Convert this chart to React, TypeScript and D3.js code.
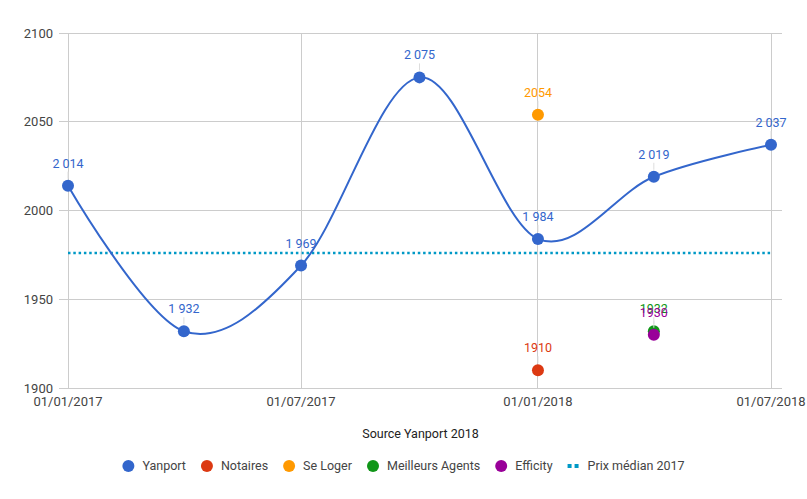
import React, { useMemo } from "react";
import * as d3 from "d3";

const yanportDates = ["2017-01-01", "2017-04-01", "2017-07-01", "2017-10-01", "2018-01-01", "2018-04-01", "2018-07-01"];
const yanportValues = [2014, 1932, 1969, 2075, 1984, 2019, 2037];

const otherSeries = [
  { name: "Notaires", color: "#dc3912", date: "2018-01-01", value: 1910 },
  { name: "Se Loger", color: "#ff9900", date: "2018-01-01", value: 2054 },
  { name: "Meilleurs Agents", color: "#109618", date: "2018-04-01", value: 1932 },
  { name: "Efficity", color: "#990099", date: "2018-04-01", value: 1930 },
];

const medianValue = 1976;
const medianRange = ["2017-01-01", "2018-07-01"];

const yTicks = [1900, 1950, 2000, 2050, 2100];
const xTicks = ["2017-01-01", "2017-07-01", "2018-01-01", "2018-07-01"];
const xTickLabels = ["01/01/2017", "01/07/2017", "01/01/2018", "01/07/2018"];

const legendItems = [
  { name: "Yanport", color: "#3366cc", kind: "dot" },
  { name: "Notaires", color: "#dc3912", kind: "dot" },
  { name: "Se Loger", color: "#ff9900", kind: "dot" },
  { name: "Meilleurs Agents", color: "#109618", kind: "dot" },
  { name: "Efficity", color: "#990099", kind: "dot" },
  { name: "Prix médian 2017", color: "#0099c6", kind: "dash" },
];

const W = 807;
const H = 499;
const FONT = "Roboto, Arial, sans-serif";
const YANPORT_COLOR = "#3366cc";
const MEDIAN_COLOR = "#0099c6";

const fmtSpace = (v: number) => {
  const s = String(Math.round(v));
  return s.replace(/\B(?=(\d{3})+(?!\d))/g, " ");
};

function measure(text: string, size: number) {
  if (typeof document === "undefined") return text.length * size * 0.55;
  const c = document.createElement("canvas").getContext("2d");
  if (!c) return text.length * size * 0.55;
  c.font = `${size}px Roboto`;
  return c.measureText(text).width;
}

export default function App() {
  const parse = d3.timeParse("%Y-%m-%d");
  const x = d3
    .scaleTime()
    .domain([parse("2017-01-01")!, parse("2018-07-01")!])
    .range([68, 771]);
  const y = d3.scaleLinear().domain([1900, 2100]).range([388, 33]);

  const yanPts = yanportDates.map((d, i) => ({ x: x(parse(d)!), y: y(yanportValues[i]), v: yanportValues[i] }));
  const line = d3
    .line<{ x: number; y: number }>()
    .x((d) => d.x)
    .y((d) => d.y)
    .curve(d3.curveCardinal.tension(0));

  const legend = useMemo(() => {
    const size = 12.5;
    const items = legendItems.map((it) => {
      const tw = measure(it.name, size);
      const markW = it.kind === "dot" ? 12 : 11;
      const gapText = it.kind === "dot" ? 8 : 9;
      return { ...it, tw, markW, gapText, w: markW + gapText + tw };
    });
    const gap = 15;
    const total = items.reduce((a, b) => a + b.w, 0) + gap * (items.length - 1);
    let cx = (W - total) / 2;
    return items.map((it) => {
      const o = { ...it, x0: cx };
      cx += it.w + gap;
      return o;
    });
  }, []);

  const labelFor = (px: number, py: number, text: string, color: string, key: string) => (
    <g key={key}>
      <line x1={px} x2={px} y1={py - 7} y2={py - 14} stroke="#ddd" strokeWidth={1} />
      <text x={px} y={py - 18} textAnchor="middle" fill={color} fontSize={12.5} fontFamily={FONT}>
        {text}
      </text>
    </g>
  );

  return (
    <svg
      width={W}
      height={H}
      style={{ position: "absolute", left: 0, top: 0, background: "#fff" }}
      fontFamily={FONT}
    >
      {yTicks.map((t) => (
        <g key={"y" + t}>
          <line x1={59} x2={782} y1={y(t)} y2={y(t)} stroke="#cccccc" strokeWidth={1} shapeRendering="crispEdges" />
          <text x={53} y={y(t)} dy="0.35em" textAnchor="end" fill="#444" fontSize={13}>
            {t}
          </text>
        </g>
      ))}
      {xTicks.map((t, i) => {
        const px = x(parse(t)!);
        return (
          <g key={"x" + t}>
            <line x1={px} x2={px} y1={y(2100)} y2={y(1900)} stroke="#cccccc" strokeWidth={1} shapeRendering="crispEdges" />
            <text x={px} y={406} textAnchor="middle" fill="#444" fontSize={13}>
              {xTickLabels[i]}
            </text>
          </g>
        );
      })}
      <text x={W / 2 + 17} y={438} textAnchor="middle" fill="#222" fontSize={12.5}>
        Source Yanport 2018
      </text>

      <line
        x1={x(parse(medianRange[0])!)}
        x2={x(parse(medianRange[1])!)}
        y1={y(medianValue)}
        y2={y(medianValue)}
        stroke={MEDIAN_COLOR}
        strokeWidth={2.5}
        strokeDasharray="2.5,2.8"
      />

      <path d={line(yanPts) || ""} fill="none" stroke={YANPORT_COLOR} strokeWidth={2} />
      {yanPts.map((p, i) => (
        <circle key={"yp" + i} cx={p.x} cy={p.y} r={6} fill={YANPORT_COLOR} />
      ))}
      {yanPts.map((p, i) => labelFor(p.x, p.y, fmtSpace(p.v), YANPORT_COLOR, "yl" + i))}

      {otherSeries.map((s) => {
        const px = x(parse(s.date)!);
        const py = y(s.value);
        return <circle key={"op" + s.name} cx={px} cy={py} r={6} fill={s.color} />;
      })}
      {otherSeries.map((s) => {
        const px = x(parse(s.date)!);
        const py = y(s.value);
        return labelFor(px, py, String(s.value), s.color, "ol" + s.name);
      })}

      {legend.map((it) => (
        <g key={"lg" + it.name}>
          {it.kind === "dot" ? (
            <circle cx={it.x0 + 6} cy={466} r={6} fill={it.color} />
          ) : (
            <line
              x1={it.x0}
              x2={it.x0 + it.markW}
              y1={466}
              y2={466}
              stroke={it.color}
              strokeWidth={4}
              strokeDasharray="4,3"
            />
          )}
          <text x={it.x0 + it.markW + it.gapText} y={466} dy="0.35em" fill="#444" fontSize={12.5}>
            {it.name}
          </text>
        </g>
      ))}
    </svg>
  );
}
